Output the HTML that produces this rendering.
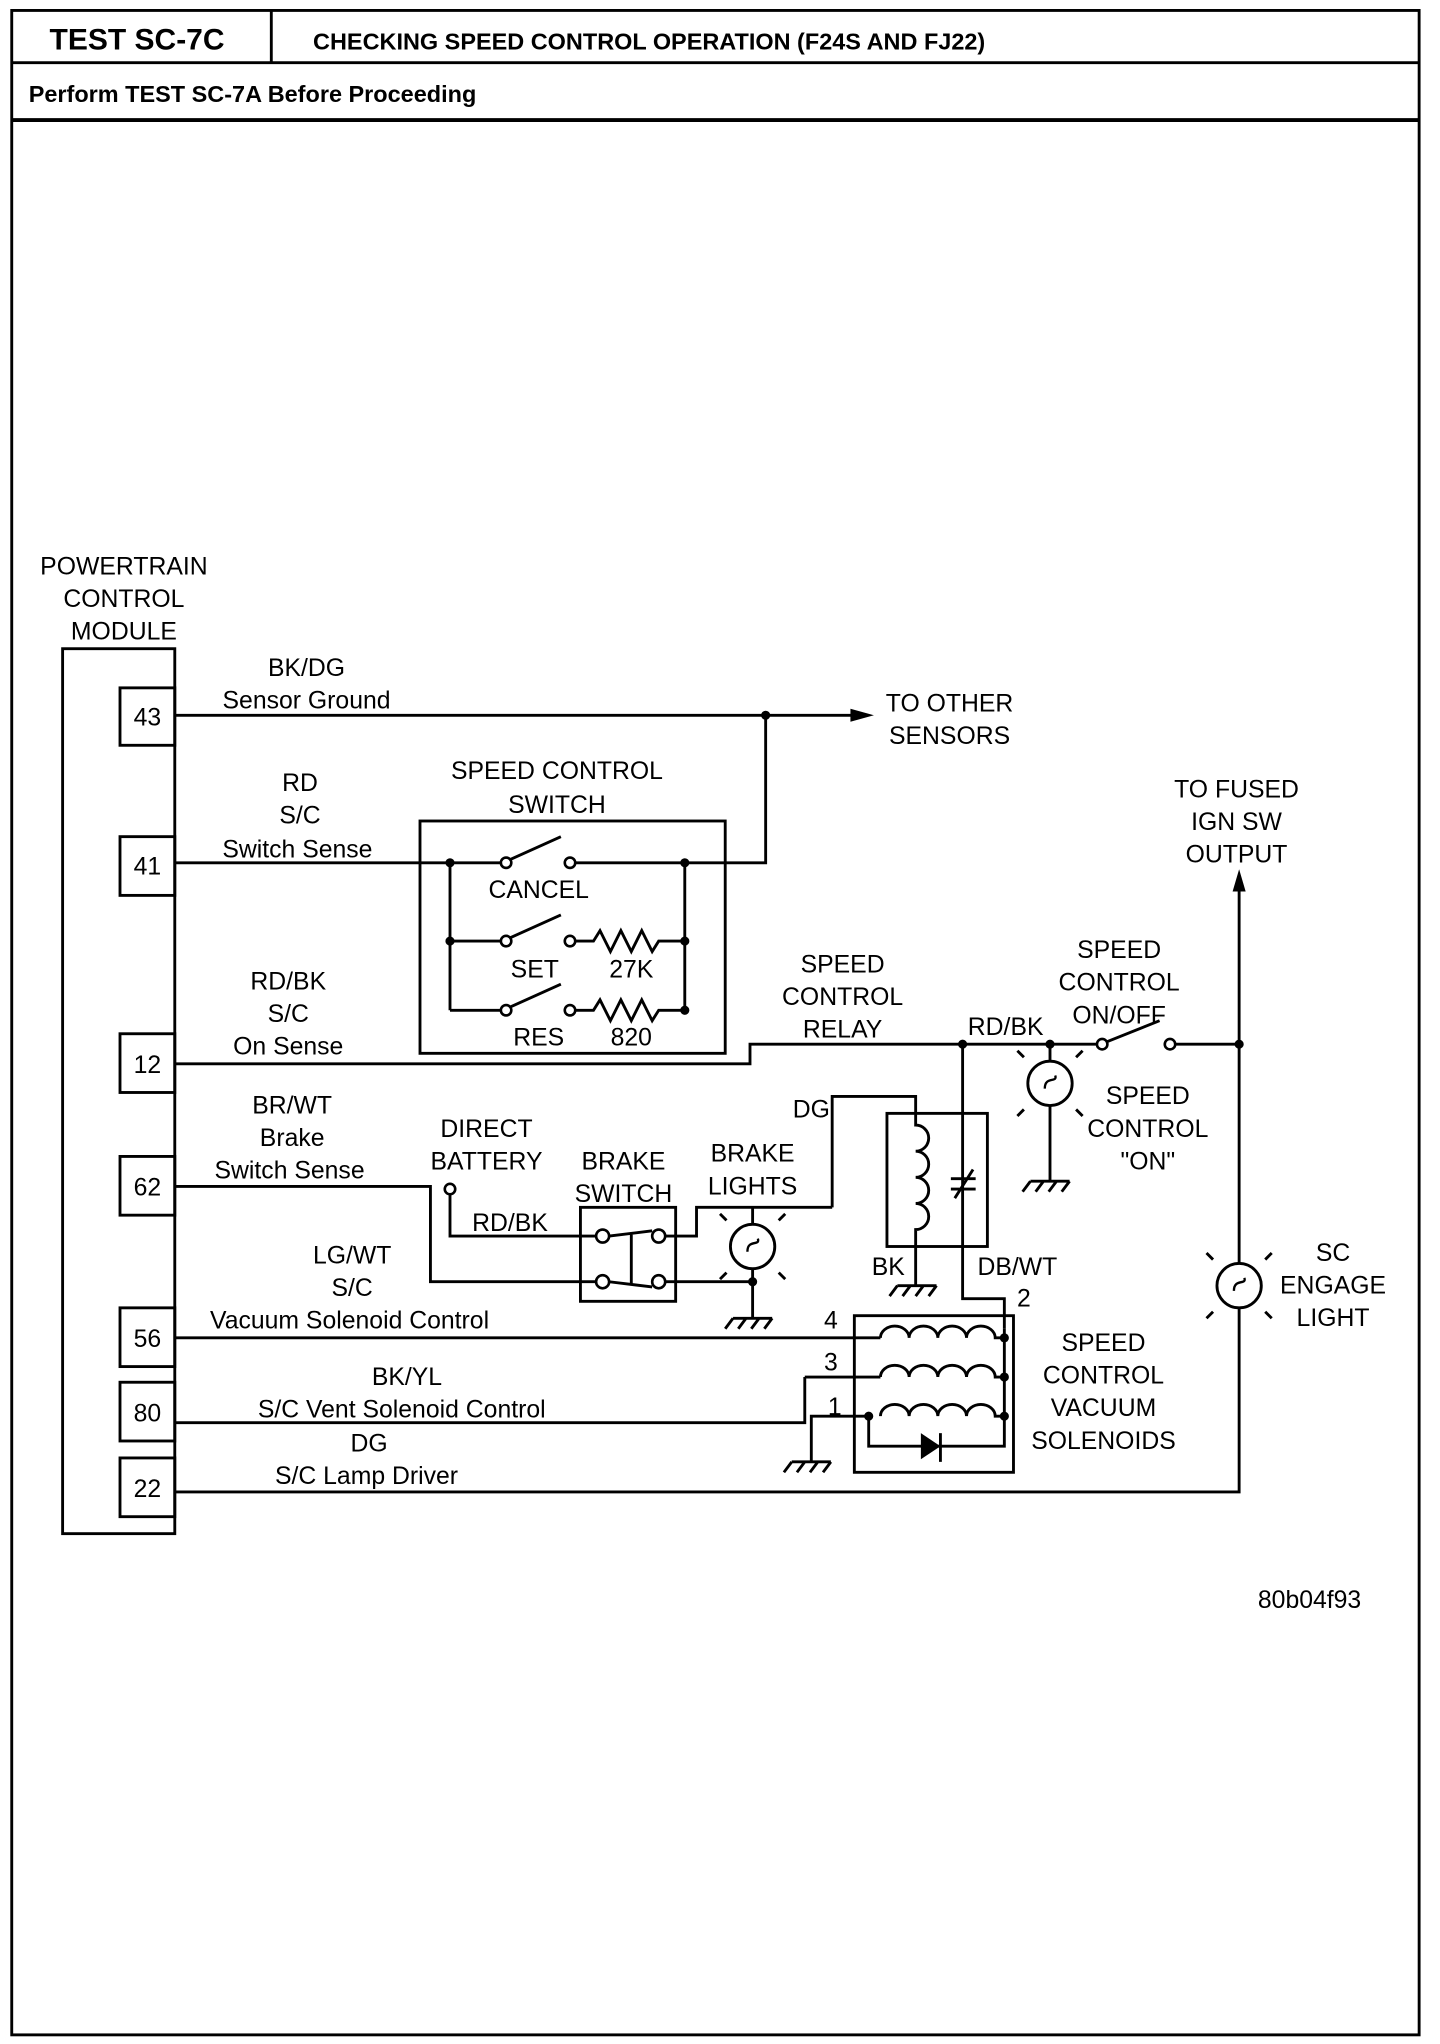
<!DOCTYPE html>
<html><head><meta charset="utf-8"><style>
html,body{margin:0;padding:0;background:#fff;}
svg{display:block;}
text{font-family:"Liberation Sans",Arial,sans-serif;fill:#000;}
</style></head><body>
<svg width="1440" height="2044" viewBox="0 0 1104 1566" preserveAspectRatio="none" xmlns="http://www.w3.org/2000/svg">
<g fill="none" stroke="#000" stroke-width="2.2">
<rect x="9" y="8" width="1079" height="1551"/>
<line x1="9" y1="48" x2="1088" y2="48"/>
<line x1="208" y1="8" x2="208" y2="48"/>
<line x1="9" y1="92" x2="1088" y2="92" stroke-width="3"/>
<rect x="48" y="497" width="86" height="678"/>
<rect x="92" y="527" width="42" height="44"/>
<rect x="92" y="641" width="42" height="45"/>
<rect x="92" y="792" width="42" height="45"/>
<rect x="92" y="886" width="42" height="45"/>
<rect x="92" y="1002" width="42" height="45"/>
<rect x="92" y="1059" width="42" height="45"/>
<rect x="92" y="1117" width="42" height="45"/>
<path d="M134 548 H655"/>
<path d="M587 548 V661 H525"/>
<rect x="322" y="629" width="234" height="178"/>
<path d="M134 661 H345 V774"/>
<path d="M345 661 H385 M345 721 H385 M345 774 H385"/>
<path d="M525 661 V774"/>
<path d="M441 661 H525"/>
<path d="M390 659 L430 641 M390 719 L430 701 M390 772 L430 754"/>
<path d="M441 721 H455 l5 -8 l8 16 l8 -16 l8 16 l8 -16 l8 16 l5 -8 H525"/>
<path d="M441 774 H455 l5 -8 l8 16 l8 -16 l8 16 l8 -16 l8 16 l5 -8 H525"/>
<path d="M134 815 H575 V800 H841"/>
<path d="M849 798 L889 782"/>
<path d="M901 800 H950"/>
<path d="M950 672 V968 M950 1002 V1143 H134"/>
<path d="M805 800 V813 M805 847 V905"/>
<rect x="680" y="853" width="77" height="102"/>
<path d="M738 800 V995 H770 V1018"/>
<path d="M638 925 V840 H702 V862 a10 10 0 0 1 0 20 a10 10 0 0 1 0 20 a10 10 0 0 1 0 20 a10 10 0 0 1 0 20 V985"/>
<path d="M729 903 H748 M729 911 H748 M732 918 L746 896"/>
<rect x="445" y="925" width="73" height="72"/>
<path d="M345 915 V947 H457"/>
<path d="M134 909 H330 V982 H457"/>
<path d="M467 947 L500 943 M467 982 L500 986 M484 945 V984"/>
<path d="M510 947 H534 V925 H638"/>
<path d="M510 982 H577"/>
<path d="M577 925 V938 M577 972 V1010"/>
<rect x="655" y="1008" width="122" height="120"/>
<path d="M134 1025 H675 M617 1055 H675 M134 1090 H617 V1055"/>
<path d="M622 1120 V1085 H666"/>
<path d="M675 1025 a11 9 0 0 1 22 0 a11 9 0 0 1 22 0 a11 9 0 0 1 22 0 a11 9 0 0 1 22 0 h5"/>
<path d="M675 1055 a11 9 0 0 1 22 0 a11 9 0 0 1 22 0 a11 9 0 0 1 22 0 a11 9 0 0 1 22 0 h5"/>
<path d="M675 1085 a11 9 0 0 1 22 0 a11 9 0 0 1 22 0 a11 9 0 0 1 22 0 a11 9 0 0 1 22 0 h5"/>
<path d="M770 1018 V1108 H666 V1085"/>
<line x1="721" y1="1098" x2="721" y2="1120"/>
<circle cx="805" cy="830" r="17"/>
<circle cx="577" cy="955" r="17"/>
<circle cx="950" cy="985" r="17"/>
<path d="M785 810 l-5 -5 M825 810 l5 -5 M785 850 l-5 5 M825 850 l5 5"/>
<path d="M557 935 l-5 -5 M597 935 l5 -5 M557 975 l-5 5 M597 975 l5 5"/>
<path d="M930 965 l-5 -5 M970 965 l5 -5 M930 1005 l-5 5 M970 1005 l5 5"/>
<path d="M801 834 c0 -10 10 -4 8 -10 M573 959 c0 -10 10 -4 8 -10 M946 989 c0 -10 10 -4 8 -10" stroke-width="1.8"/>
<path d="M790 905 H820 M790 905 l-6 8 M800 905 l-6 8 M810 905 l-6 8 M820 905 l-6 8"/>
<path d="M688 985 H718 M688 985 l-6 8 M698 985 l-6 8 M708 985 l-6 8 M718 985 l-6 8"/>
<path d="M562 1010 H592 M562 1010 l-6 8 M572 1010 l-6 8 M582 1010 l-6 8 M592 1010 l-6 8"/>
<path d="M607 1120 H637 M607 1120 l-6 8 M617 1120 l-6 8 M627 1120 l-6 8 M637 1120 l-6 8"/>
</g>
<g fill="#fff" stroke="#000" stroke-width="2">
<circle cx="388" cy="661" r="4"/><circle cx="437" cy="661" r="4"/>
<circle cx="388" cy="721" r="4"/><circle cx="437" cy="721" r="4"/>
<circle cx="388" cy="774" r="4"/><circle cx="437" cy="774" r="4"/>
<circle cx="845" cy="800" r="4"/><circle cx="897" cy="800" r="4"/>
<circle cx="345" cy="911" r="4"/>
<circle cx="462" cy="947" r="5"/><circle cx="505" cy="947" r="5"/>
<circle cx="462" cy="982" r="5"/><circle cx="505" cy="982" r="5"/>
</g>
<g fill="#000">
<circle cx="587" cy="548" r="3.5"/>
<circle cx="345" cy="661" r="3.5"/><circle cx="345" cy="721" r="3.5"/>
<circle cx="525" cy="661" r="3.5"/><circle cx="525" cy="721" r="3.5"/><circle cx="525" cy="774" r="3.5"/>
<circle cx="738" cy="800" r="3.5"/><circle cx="805" cy="800" r="3.5"/><circle cx="950" cy="800" r="3.5"/>
<circle cx="577" cy="982" r="3.5"/>
<circle cx="770" cy="1025" r="3.5"/><circle cx="770" cy="1055" r="3.5"/><circle cx="770" cy="1085" r="3.5"/><circle cx="666" cy="1085" r="3.5"/>
<polygon points="652,543 670,548 652,553"/>
<polygon points="945,683 950,666 955,683"/>
<polygon points="706,1098 706,1118 721,1108"/>
</g>
<g font-size="19">
<text x="38" y="38" font-size="23" font-weight="bold">TEST SC-7C</text>
<text x="240" y="38" font-size="18" font-weight="bold">CHECKING SPEED CONTROL OPERATION (F24S AND FJ22)</text>
<text x="22" y="78" font-size="18" font-weight="bold">Perform TEST SC-7A Before Proceeding</text>
<g text-anchor="middle">
<text x="95" y="440">POWERTRAIN</text><text x="95" y="465">CONTROL</text><text x="95" y="490">MODULE</text>
<text x="113" y="556">43</text><text x="113" y="670">41</text><text x="113" y="822">12</text>
<text x="113" y="916">62</text><text x="113" y="1032">56</text><text x="113" y="1089">80</text><text x="113" y="1147">22</text>
<text x="235" y="518">BK/DG</text><text x="235" y="543">Sensor Ground</text>
<text x="728" y="545">TO OTHER</text><text x="728" y="570">SENSORS</text>
<text x="230" y="606">RD</text><text x="230" y="631">S/C</text><text x="228" y="657">Switch Sense</text>
<text x="427" y="597">SPEED CONTROL</text><text x="427" y="623">SWITCH</text>
<text x="413" y="688">CANCEL</text><text x="410" y="749">SET</text><text x="484" y="749">27K</text>
<text x="413" y="801">RES</text><text x="484" y="801">820</text>
<text x="948" y="611">TO FUSED</text><text x="948" y="636">IGN SW</text><text x="948" y="661">OUTPUT</text>
<text x="221" y="758">RD/BK</text><text x="221" y="783">S/C</text><text x="221" y="808">On Sense</text>
<text x="646" y="745">SPEED</text><text x="646" y="770">CONTROL</text><text x="646" y="795">RELAY</text>
<text x="771" y="793">RD/BK</text>
<text x="858" y="734">SPEED</text><text x="858" y="759">CONTROL</text><text x="858" y="784">ON/OFF</text>
<text x="880" y="846">SPEED</text><text x="880" y="871">CONTROL</text><text x="880" y="896">"ON"</text>
<text x="224" y="853">BR/WT</text><text x="224" y="878">Brake</text><text x="222" y="903">Switch Sense</text>
<text x="373" y="871">DIRECT</text><text x="373" y="896">BATTERY</text>
<text x="478" y="896">BRAKE</text><text x="478" y="921">SWITCH</text>
<text x="577" y="890">BRAKE</text><text x="577" y="915">LIGHTS</text>
<text x="622" y="856">DG</text>
<text x="391" y="943">RD/BK</text>
<text x="270" y="968">LG/WT</text><text x="270" y="993">S/C</text><text x="268" y="1018">Vacuum Solenoid Control</text>
<text x="681" y="977">BK</text><text x="780" y="977">DB/WT</text><text x="785" y="1001">2</text>
<text x="1022" y="966">SC</text><text x="1022" y="991">ENGAGE</text><text x="1022" y="1016">LIGHT</text>
<text x="637" y="1018">4</text><text x="637" y="1050">3</text><text x="640" y="1084">1</text>
<text x="846" y="1035">SPEED</text><text x="846" y="1060">CONTROL</text><text x="846" y="1085">VACUUM</text><text x="846" y="1110">SOLENOIDS</text>
<text x="312" y="1061">BK/YL</text><text x="308" y="1086">S/C Vent Solenoid Control</text>
<text x="283" y="1112">DG</text><text x="281" y="1137">S/C Lamp Driver</text>
<text x="1004" y="1232">80b04f93</text>
</g>
</g>
</svg>
</body></html>
